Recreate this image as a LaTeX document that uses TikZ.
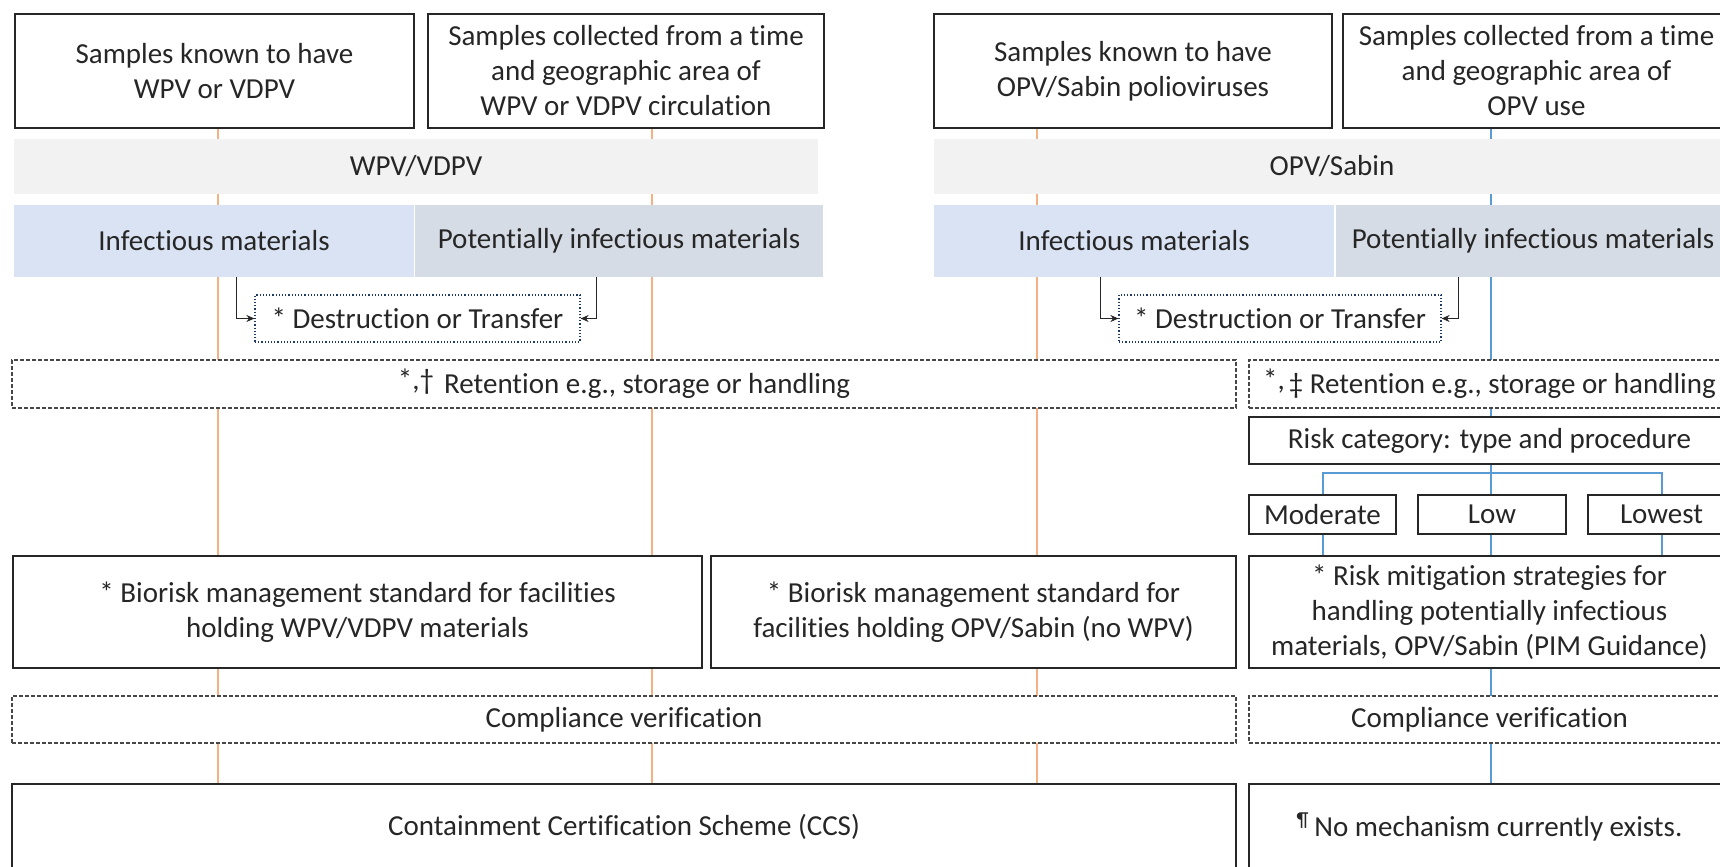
\documentclass[tikz,border=0pt]{standalone}
\usepackage{fontspec}
\setmainfont{Carlito}[Ligatures=NoCommon]
\usetikzlibrary{arrows.meta,calc}

\definecolor{wpvorange}{HTML}{F4B183}
\definecolor{opvblue}{HTML}{5B9BD5}
\definecolor{bandgray}{HTML}{F2F2F2}
\definecolor{infblue}{HTML}{DAE3F3}
\definecolor{potgray}{HTML}{D6DCE5}
\definecolor{dtnavy}{HTML}{203864}
\definecolor{txt}{HTML}{262626}

\pgfdeclarelayer{background}
\pgfsetlayers{background,main}

\begin{document}
\begin{tikzpicture}[
    x=0.5pt, y=-0.5pt,
    every node/.style={font=\fontsize{14.5}{17.5}\selectfont, text=txt, align=center, inner sep=0pt},
    sz/.style 2 args={minimum width=#1*0.5pt, minimum height=#2*0.5pt},
    solidbox/.style={draw=txt, line width=1pt, fill=white},
    dashbox/.style={draw=black!72, line width=0.6pt, dash pattern=on 2pt off 1pt, fill=white},
    band/.style={fill=bandgray},
    infband/.style={fill=infblue},
    potband/.style={fill=potgray},
    dtbox/.style={draw=dtnavy, line width=0.6pt, densely dotted, fill=white},
    dtarrow/.style={-{Stealth[length=4pt,width=3.5pt]}, line width=0.6pt, draw=txt},
    wpvline/.style={draw=wpvorange, line width=1.4pt},
    opvline/.style={draw=opvblue, line width=1.4pt}
  ]
  \useasboundingbox (0,0) rectangle (1720,867);
  \clip (0,0) rectangle (1720,867);

  % sample sources
  \node[solidbox, sz={399}{114}] (smpA) at (214.5,71) {Samples known to have\\WPV or VDPV};
  \node[solidbox, sz={396}{114}] (smpB) at (626,71) {Samples collected from a time\\and geographic area of\\WPV or VDPV circulation};
  \node[solidbox, sz={398}{114}] (smpC) at (1133,71) {Samples known to have\\OPV/Sabin polioviruses};
  \node[solidbox, sz={387}{114}] (smpD) at (1536.5,71) {Samples collected from a time\\and geographic area of\\OPV use};

  % virus type bands
  \node[band, sz={804}{55}] (wpv) at (416,166.5) {WPV/VDPV};
  \node[band, sz={796}{55}] (opv) at (1332,166.5) {OPV/Sabin};

  % material bands
  \node[infband, sz={400}{72}] (inf1) at (214,241) {Infectious materials};
  \node[potband, sz={408}{72}] (pot1) at (619,241) {Potentially infectious materials};
  \node[infband, sz={400}{72}] (inf2) at (1134,241) {Infectious materials};
  \node[potband, sz={394}{72}] (pot2) at (1533,241) {Potentially infectious materials};

  \node[dtbox, sz={325}{47}] (dest1) at (417.5,318.5) {* Destruction or Transfer};
  \node[dtbox, sz={322}{47}] (dest2) at (1280,318.5) {* Destruction or Transfer};

  \node[dashbox, sz={1224}{48}] (ret1) at (624,384) {\raisebox{2pt}{*,†}\hspace{5pt}Retention e.g., storage or handling};
  \node[dashbox, sz={481}{48}] (ret2) at (1489.5,384) {\raisebox{2pt}{*,}\hspace{2pt}‡ Retention e.g., storage or handling};

  % risk categories
  \node[solidbox, sz={481}{47}] (risk) at (1489.5,440.5) {Risk category: type and procedure};
  \node[solidbox, sz={147}{39}] (mod) at (1322.5,514.5) {Moderate};
  \node[solidbox, sz={148}{39}] (low) at (1492,514.5) {Low};
  \node[solidbox, sz={147}{39}] (lowest) at (1661.5,514.5) {Lowest};

  % standards
  \node[solidbox, sz={689}{112}] (bio1) at (357.5,612) {* Biorisk management standard for facilities\\holding WPV/VDPV materials};
  \node[solidbox, sz={525}{112}] (bio2) at (973.5,612) {* Biorisk management standard for\\facilities holding OPV/Sabin (no WPV)};
  \node[solidbox, sz={481}{112}] (mit) at (1489.5,612) {* Risk mitigation strategies for\\handling potentially infectious\\materials, OPV/Sabin (PIM Guidance)};

  \node[dashbox, sz={1224}{47}] (cmp1) at (624,719.5) {Compliance verification};
  \node[dashbox, sz={481}{47}] (cmp2) at (1489.5,719.5) {Compliance verification};

  \node[solidbox, sz={1224}{86}] (ccs) at (624,827) {Containment Certification Scheme (CCS)};
  \node[solidbox, sz={481}{86}] (nomech) at (1489.5,827) {\textsuperscript{¶}\,No mechanism currently exists.};

  % flow lines behind the boxes
  \coordinate (wl1) at (218,0);
  \coordinate (wl2) at (652,0);
  \coordinate (wl3) at (1037,0);
  \coordinate (ol1) at (1491,0);
  \coordinate (br) at (0,473);
  \begin{pgfonlayer}{background}
    \foreach \src/\col in {smpA/wl1, smpB/wl2, smpC/wl3} {
      \draw[wpvline] (\src.south -| \col) -- (ccs.north -| \col);
    }
    \draw[opvline] (smpD.south -| ol1) -- (nomech.north -| ol1);
    \draw[opvline, line width=1pt] (mod.north) -- (mod.north |- br) -- (lowest.north |- br) -- (lowest.north);
    \foreach \t in {mod, lowest} {
      \draw[opvline, line width=1pt] (\t.south) -- (mit.north -| \t.south);
    }
  \end{pgfonlayer}

  % destruction arrows
  \coordinate (dl1) at ($(dest1.west)+(-18,0)$);
  \coordinate (dr1) at ($(dest1.east)+(16,0)$);
  \coordinate (dl2) at ($(dest2.west)+(-18,0)$);
  \coordinate (dr2) at ($(dest2.east)+(17,0)$);
  \draw[dtarrow] (inf1.south -| dl1) |- (dest1.west);
  \draw[dtarrow] (pot1.south -| dr1) |- (dest1.east);
  \draw[dtarrow] (inf2.south -| dl2) |- (dest2.west);
  \draw[dtarrow] (pot2.south -| dr2) |- (dest2.east);
\end{tikzpicture}
\end{document}
